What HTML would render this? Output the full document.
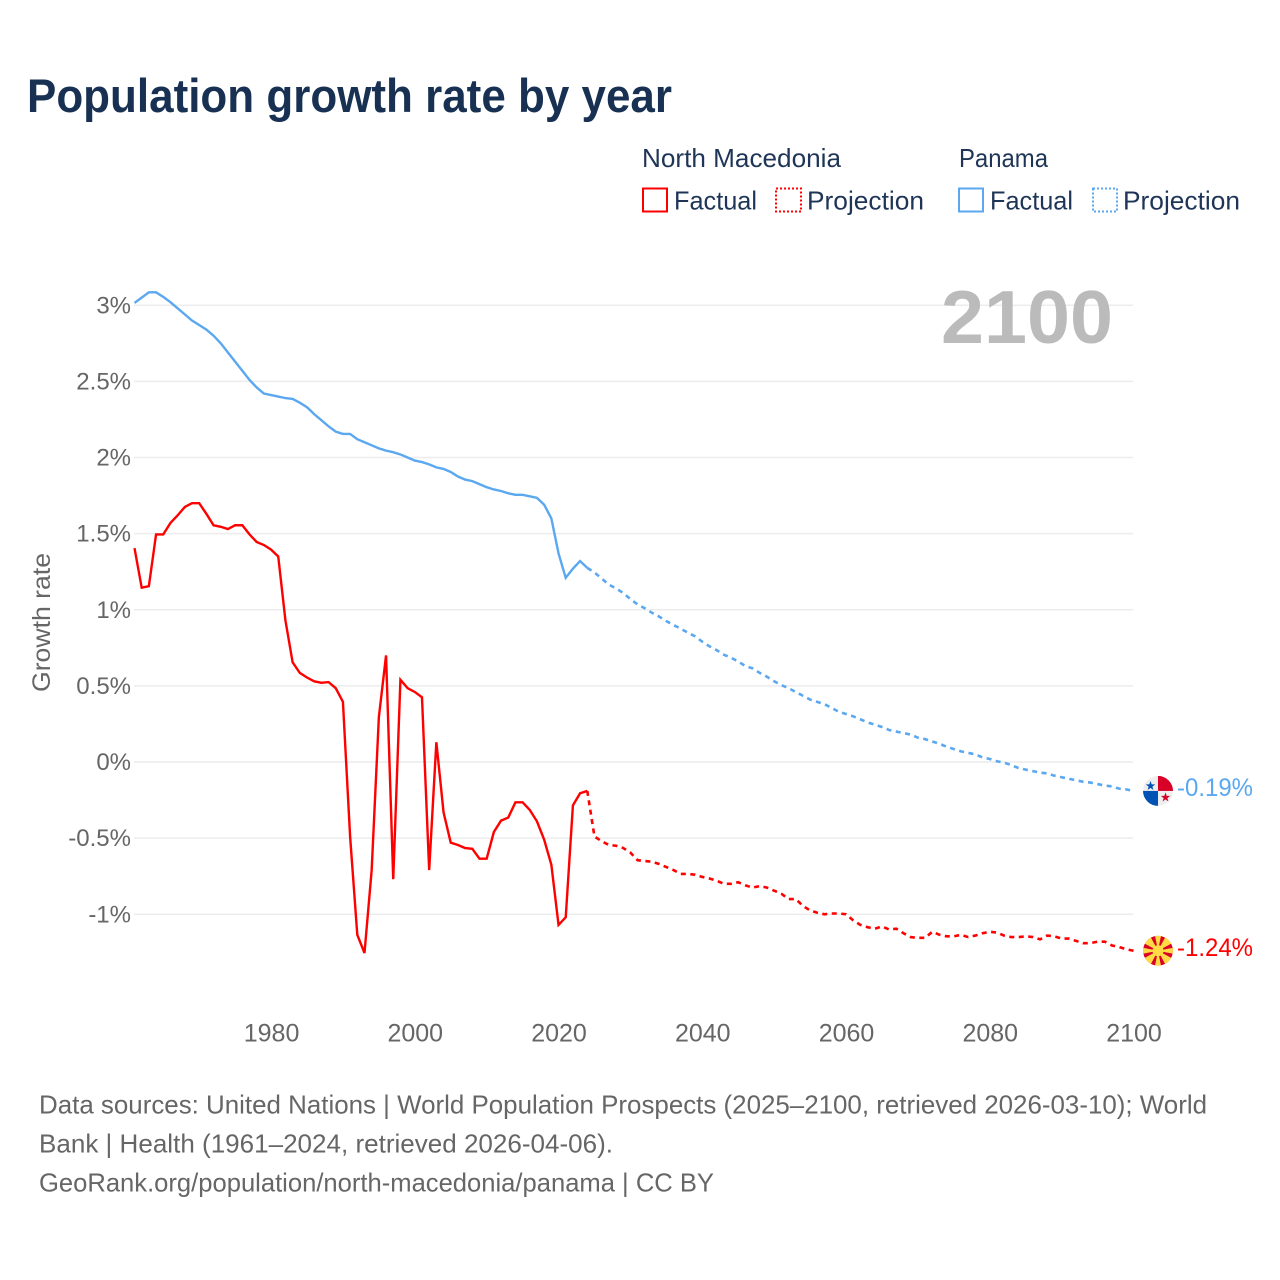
<!DOCTYPE html>
<html lang="en">
<head>
<meta charset="utf-8">
<title>Population growth rate by year</title>
<style>
html,body{margin:0;padding:0;background:#fff;}
svg{display:block;font-family:"Liberation Sans",sans-serif;}
</style>
</head>
<body>
<svg id="chart" xmlns="http://www.w3.org/2000/svg" width="1280" height="1280" viewBox="0 0 1280 1280">
  <rect x="0" y="0" width="1280" height="1280" fill="#fff"/>
  <text x="27" y="112" font-size="47" font-weight="700" fill="#183153" textLength="645" lengthAdjust="spacingAndGlyphs">Population growth rate by year</text>

  <g font-size="26" fill="#1f3557">
    <text x="642" y="167" textLength="199" lengthAdjust="spacingAndGlyphs">North Macedonia</text>
    <text x="959" y="167" textLength="89" lengthAdjust="spacingAndGlyphs">Panama</text>
    <rect x="643" y="188.5" width="24" height="23" fill="none" stroke="#ff0000" stroke-width="2"/>
    <text x="674" y="209.5" textLength="83" lengthAdjust="spacingAndGlyphs">Factual</text>
    <rect x="776" y="188.5" width="25" height="23" fill="none" stroke="#ff0000" stroke-width="2" stroke-dasharray="2 2"/>
    <text x="807" y="209.5" textLength="117" lengthAdjust="spacingAndGlyphs">Projection</text>
    <rect x="959" y="188.5" width="24" height="23" fill="none" stroke="#5ba8f0" stroke-width="2"/>
    <text x="990" y="209.5" textLength="83" lengthAdjust="spacingAndGlyphs">Factual</text>
    <rect x="1093" y="188.5" width="24" height="23" fill="none" stroke="#5ba8f0" stroke-width="2" stroke-dasharray="2 2"/>
    <text x="1123" y="209.5" textLength="117" lengthAdjust="spacingAndGlyphs">Projection</text>
  </g>

  <g id="grid"></g>
  <g id="yticks" font-size="24" fill="#666" text-anchor="end"></g>
  <g id="xticks" font-size="25" fill="#666" text-anchor="middle"></g>
  <text transform="translate(50,622.5) rotate(-90)" font-size="25" fill="#666" text-anchor="middle" textLength="139" lengthAdjust="spacingAndGlyphs">Growth rate</text>
  <text x="941" y="343" font-size="75" font-weight="700" fill="#bbbbbb" textLength="172" lengthAdjust="spacingAndGlyphs">2100</text>

  <g id="series"></g>

  <defs>
    <clipPath id="flag-clip"><circle cx="0" cy="0" r="15"/></clipPath>
  </defs>
  <g id="flag-panama" clip-path="url(#flag-clip)">
    <circle cx="0" cy="0" r="15" fill="#eeeeee"/>
    <rect x="0" y="-15" width="15" height="15" fill="#d80027"/>
    <rect x="-15" y="0" width="15" height="15" fill="#0052b4"/>
    <polygon points="-7.5,-10 -6.3,-6.5 -2.8,-6.5 -5.6,-4.3 -4.6,-0.9 -7.5,-3 -10.4,-0.9 -9.4,-4.3 -12.2,-6.5 -8.7,-6.5" fill="#0052b4"/>
    <polygon points="7.5,1.5 8.7,5 12.2,5 9.4,7.2 10.4,10.6 7.5,8.5 4.6,10.6 5.6,7.2 2.8,5 6.3,5" fill="#d80027"/>
  </g>
  <g id="flag-macedonia" clip-path="url(#flag-clip)">
    <circle cx="0" cy="0" r="15" fill="#d80027"/>
    <g fill="#ffda44">
      <polygon points="0,0 -3.2,-16 3.2,-16"/>
      <polygon points="0,0 -3.2,16 3.2,16"/>
      <polygon points="0,0 -16,-3.2 -16,3.2"/>
      <polygon points="0,0 16,-3.2 16,3.2"/>
      <polygon points="0,0 7.5,-14 14,-7.5"/>
      <polygon points="0,0 -7.5,-14 -14,-7.5"/>
      <polygon points="0,0 7.5,14 14,7.5"/>
      <polygon points="0,0 -7.5,14 -14,7.5"/>
      <circle cx="0" cy="0" r="5.5"/>
    </g>
  </g>
  <text id="label-panama" x="1177" font-size="25" fill="#5ba8f0" textLength="76" lengthAdjust="spacingAndGlyphs"></text>
  <text id="label-macedonia" x="1177" font-size="25" fill="#ff0000" textLength="76" lengthAdjust="spacingAndGlyphs"></text>

  <g font-size="26" fill="#666">
    <text x="39" y="1113.5" textLength="1168" lengthAdjust="spacingAndGlyphs">Data sources: United Nations | World Population Prospects (2025–2100, retrieved 2026-03-10); World</text>
    <text x="39" y="1152.5" textLength="574" lengthAdjust="spacingAndGlyphs">Bank | Health (1961–2024, retrieved 2026-04-06).</text>
    <text x="39" y="1191.5" textLength="675" lengthAdjust="spacingAndGlyphs">GeoRank.org/population/north-macedonia/panama | CC BY</text>
  </g>
</svg>

<script>
const firstFactualYear = 1961;
const firstProjectionYear = 2024;
const yTickValues = [3, 2.5, 2, 1.5, 1, 0.5, 0, -0.5, -1];
const yTickLabels = ["3%", "2.5%", "2%", "1.5%", "1%", "0.5%", "0%", "-0.5%", "-1%"];
const xTickYears = [1980, 2000, 2020, 2040, 2060, 2080, 2100];
const macedoniaFactual = [
  1.405,1.145,1.155,1.495,1.495,1.57,1.62,1.675,1.70,1.70,
  1.63,1.555,1.545,1.53,1.555,1.555,1.495,1.445,1.425,1.395,
  1.35,0.93,0.655,0.585,0.555,0.53,0.52,0.525,0.485,0.395,
  -0.49,-1.135,-1.255,-0.71,0.295,0.70,-0.77,0.54,0.485,0.46,
  0.425,-0.71,0.13,-0.33,-0.53,-0.545,-0.565,-0.57,-0.635,-0.635,
  -0.46,-0.385,-0.365,-0.265,-0.265,-0.315,-0.39,-0.51,-0.675,-1.07,
  -1.02,-0.285,-0.205,-0.19
];
const macedoniaProjection = [
  -0.19,-0.49,-0.52,-0.545,-0.55,-0.565,-0.595,-0.645,-0.65,-0.655,
  -0.67,-0.69,-0.71,-0.735,-0.735,-0.74,-0.755,-0.765,-0.78,-0.80,
  -0.80,-0.79,-0.81,-0.825,-0.815,-0.825,-0.845,-0.865,-0.90,-0.90,
  -0.945,-0.975,-0.99,-1.0,-0.995,-0.995,-1.0,-1.04,-1.07,-1.085,
  -1.095,-1.08,-1.10,-1.095,-1.125,-1.15,-1.155,-1.155,-1.115,-1.135,
  -1.145,-1.145,-1.135,-1.15,-1.14,-1.125,-1.115,-1.12,-1.14,-1.15,
  -1.15,-1.145,-1.15,-1.165,-1.14,-1.145,-1.16,-1.16,-1.175,-1.19,
  -1.19,-1.18,-1.18,-1.205,-1.215,-1.23,-1.24
];
const panamaFactual = [
  3.015,3.05,3.085,3.085,3.055,3.02,2.98,2.94,2.90,2.87,
  2.84,2.80,2.75,2.69,2.63,2.57,2.51,2.46,2.42,2.41,
  2.40,2.39,2.385,2.36,2.33,2.285,2.245,2.205,2.17,2.155,
  2.155,2.12,2.10,2.08,2.06,2.045,2.035,2.02,2.00,1.98,
  1.97,1.955,1.935,1.925,1.905,1.875,1.855,1.845,1.825,1.805,
  1.79,1.78,1.765,1.755,1.755,1.745,1.735,1.69,1.60,1.37,
  1.21,1.27,1.32,1.275
];
const panamaProjection = [
  1.275,1.245,1.205,1.165,1.14,1.11,1.07,1.035,1.01,0.98,
  0.955,0.925,0.90,0.875,0.85,0.825,0.79,0.76,0.735,0.705,
  0.685,0.66,0.63,0.615,0.585,0.56,0.53,0.505,0.485,0.46,
  0.435,0.41,0.395,0.38,0.355,0.33,0.315,0.30,0.28,0.26,
  0.245,0.23,0.21,0.20,0.19,0.18,0.16,0.15,0.135,0.12,
  0.10,0.085,0.07,0.06,0.05,0.03,0.02,0.005,-0.005,-0.02,
  -0.04,-0.05,-0.06,-0.07,-0.075,-0.09,-0.10,-0.11,-0.12,-0.13,
  -0.135,-0.145,-0.155,-0.16,-0.175,-0.18,-0.19
];
const macedoniaEndLabel = "-1.24%";
const panamaEndLabel = "-0.19%";

const SVG_NS = "http://www.w3.org/2000/svg";
function xScale(year) { return 134.5 + (year - 1961) * (999 / 139); }
function yScale(value) { return 762 - value * 152.25; }

function linePath(values, startYear) {
  return values.map(function (v, i) {
    return (i ? "L" : "M") + xScale(startYear + i).toFixed(2) + " " + yScale(v).toFixed(2);
  }).join(" ");
}

const grid = document.getElementById("grid");
const yticks = document.getElementById("yticks");
yTickValues.forEach(function (v, i) {
  const ln = document.createElementNS(SVG_NS, "line");
  
  
  ln.setAttribute("x1", 134);
  ln.setAttribute("x2", 1133);
  ln.setAttribute("y1", yScale(v));
  ln.setAttribute("y2", yScale(v));
  ln.setAttribute("stroke", "#ececec");
  ln.setAttribute("stroke-width", "1.5");
  grid.appendChild(ln);

  const t = document.createElementNS(SVG_NS, "text");
  
  
  t.setAttribute("x", 131);
  t.setAttribute("y", yScale(v) + 8);
  t.textContent = yTickLabels[i];
  yticks.appendChild(t);
});

const xticks = document.getElementById("xticks");
xTickYears.forEach(function (year) {
  const t = document.createElementNS(SVG_NS, "text");
  
  
  t.setAttribute("x", xScale(year) + 0.5);
  t.setAttribute("y", 1041.5);
  t.textContent = String(year);
  xticks.appendChild(t);
});

const seriesGroup = document.getElementById("series");
function addLine(values, startYear, color, dashed, name) {
  const p = document.createElementNS(SVG_NS, "path");
  
  
  p.setAttribute("d", linePath(values, startYear));
  p.setAttribute("fill", "none");
  p.setAttribute("stroke", color);
  p.setAttribute("stroke-width", dashed ? "2.6" : "2.4");
  p.setAttribute("stroke-linejoin", "miter");
  if (dashed) { p.setAttribute("stroke-dasharray", "5 4.5"); }
  seriesGroup.appendChild(p);
}
addLine(panamaFactual, firstFactualYear, "#5ba8f0", false, "panama-factual-line");
addLine(panamaProjection, firstProjectionYear, "#5ba8f0", true, "panama-projection-line");
addLine(macedoniaFactual, firstFactualYear, "#ff0000", false, "north-macedonia-factual-line");
addLine(macedoniaProjection, firstProjectionYear, "#ff0000", true, "north-macedonia-projection-line");

function placeEnd(flagId, labelId, values, text) {
  const y = yScale(values[values.length - 1]);
  document.getElementById(flagId).setAttribute("transform", "translate(1158," + y + ")");
  const lab = document.getElementById(labelId);
  lab.setAttribute("y", y + 5);
  lab.textContent = text;
}
placeEnd("flag-panama", "label-panama", panamaProjection, panamaEndLabel);
placeEnd("flag-macedonia", "label-macedonia", macedoniaProjection, macedoniaEndLabel);
</script>
</body>
</html>
